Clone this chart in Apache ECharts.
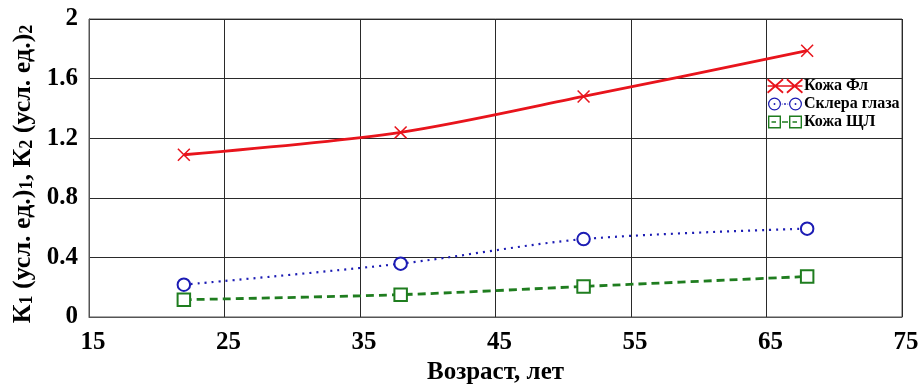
<!DOCTYPE html>
<html>
<head>
<meta charset="utf-8">
<script src="https://cdn.jsdelivr.net/npm/echarts@6/dist/echarts.min.js"></script>
<style>
html,body{margin:0;padding:0;background:#fff;}
#chart{width:924px;height:385px;}
</style>
</head>
<body>
<div id="chart"></div>
<script>
// ---- data ----
const ages = [22, 38, 51.5, 68];
const kozhaFl = [1.089, 1.239, 1.48, 1.787];
const sklera = [0.217, 0.358, 0.523, 0.593];
const kozhaSchl = [0.116, 0.150, 0.205, 0.272];
const seriesNames = ['Кожа Фл', 'Склера глаза', 'Кожа ЩЛ'];
const xTicks = [15, 25, 35, 45, 55, 65, 75];
const yTicks = [0, 0.4, 0.8, 1.2, 1.6, 2];

const FONT = '"Liberation Serif", "Times New Roman", serif';
const RED = '#e8141c', BLUE = '#1c1cb4', GREEN = '#1f7d1f';

function xShape(cx, cy, hx, hy, t) {
  const L = Math.hypot(hx, hy);
  const ox1 = t * hy / L, oy1 = -t * hx / L;
  const b1 = [[cx - hx + ox1, cy - hy + oy1], [cx + hx + ox1, cy + hy + oy1], [cx + hx - ox1, cy + hy - oy1], [cx - hx - ox1, cy - hy - oy1]];
  const ox2 = t * hy / L, oy2 = t * hx / L;
  const b2 = [[cx - hx - ox2, cy + hy - oy2], [cx + hx - ox2, cy - hy - oy2], [cx + hx + ox2, cy - hy + oy2], [cx - hx + ox2, cy + hy + oy2]];
  const poly = p => 'M' + p.map(q => q[0].toFixed(2) + ' ' + q[1].toFixed(2)).join(' L') + ' Z ';
  return poly(b1) + poly(b2);
}
function rect(x0, y0, x1, y1) { return `M${x0} ${y0} L${x1} ${y0} L${x1} ${y1} L${x0} ${y1} Z `; }
function rectRev(x0, y0, x1, y1) { return `M${x0} ${y0} L${x0} ${y1} L${x1} ${y1} L${x1} ${y0} Z `; }
function ring(cx, cy, r, r2) {
  return `M${cx - r} ${cy} A${r} ${r} 0 1 1 ${cx + r} ${cy} A${r} ${r} 0 1 1 ${cx - r} ${cy} Z ` +
         `M${cx - r2} ${cy} A${r2} ${r2} 0 1 0 ${cx + r2} ${cy} A${r2} ${r2} 0 1 0 ${cx - r2} ${cy} Z `;
}
function disc(cx, cy, r) {
  return `M${cx - r} ${cy} A${r} ${r} 0 1 1 ${cx + r} ${cy} A${r} ${r} 0 1 1 ${cx - r} ${cy} Z `;
}

const xSymbol = 'path://' + xShape(10, 10, 10, 10, 1.3);
const legRed = 'path://' + xShape(16, 15, 16, 14, 1.8) + xShape(56, 15, 16, 14, 1.8) + rect(0, 13.5, 72, 16.5);
const legBlue = 'path://' + ring(15, 15, 13, 10.5) + ring(57, 15, 13, 10.5) + disc(15, 15, 1.9) + disc(57, 15, 1.9) +
  disc(36, 15, 1.9) + disc(30.5, 15, 1.2) + disc(41.5, 15, 1.2) + rect(0, 0, 0.01, 30) + rect(71.99, 0, 72, 30);
const legGreen = 'path://' + rect(2, 2, 28, 28) + rectRev(4.8, 4.8, 25.2, 25.2) + rect(44, 2, 70, 28) + rectRev(46.8, 4.8, 67.2, 25.2) +
  rect(9, 13.5, 18, 16.5) + rect(30, 13.5, 42, 16.5) + rect(51, 13.5, 60, 16.5) + rect(0, 0, 72, 0.01) + rect(0, 29.99, 72, 30);

const toPts = vals => ages.map((a, i) => [a, vals[i]]);

const chart = echarts.init(document.getElementById('chart'), null, {renderer: 'canvas'});
chart.setOption({
  backgroundColor: '#fff',
  animation: false,
  grid: {left: 89, right: 22, top: 19, bottom: 68, show: true, borderColor: '#555', borderWidth: 1,
         containLabel: false, outerBoundsMode: 'none'},
  legend: {
    left: 767, top: 78, orient: 'vertical', itemWidth: 36, itemHeight: 15, itemGap: 2, padding: 0,
    textStyle: {fontFamily: FONT, fontWeight: 'bold', fontSize: 16, color: '#000', padding: [0, 0, 0, -4]},
    data: [
      {name: seriesNames[0], icon: legRed, itemStyle: {color: RED, borderWidth: 0}},
      {name: seriesNames[1], icon: legBlue, itemStyle: {color: BLUE, borderWidth: 0}},
      {name: seriesNames[2], icon: legGreen, itemStyle: {color: GREEN, borderWidth: 0}}
    ]
  },
  xAxis: {
    type: 'value', min: xTicks[0], max: xTicks[xTicks.length - 1], interval: xTicks[1] - xTicks[0],
    name: 'Возраст, лет', nameLocation: 'middle', nameGap: 40,
    nameTextStyle: {fontFamily: FONT, fontWeight: 'bold', fontSize: 25, color: '#000'},
    axisLine: {show: true, lineStyle: {color: '#555', width: 1}},
    axisTick: {show: false},
    axisLabel: {margin: 13, fontFamily: FONT, fontWeight: 'bold', fontSize: 25, color: '#000', padding: [0, 0, 0, 8]},
    splitLine: {show: true, lineStyle: {color: '#2a2a2a', width: 1}}
  },
  yAxis: {
    type: 'value', min: yTicks[0], max: yTicks[yTicks.length - 1], interval: yTicks[1] - yTicks[0],
    name: '{a|К}{s|1}{a| (усл. ед.)}{s|1}{a|, К}{s|2}{a| (усл. ед.)}{s|2}',
    nameLocation: 'middle', nameRotate: 90, nameGap: 50,
    nameTextStyle: {
      fontFamily: FONT, fontWeight: 'bold', fontSize: 26, color: '#000', padding: [0, 12, 0, 0],
      rich: {
        a: {fontFamily: FONT, fontWeight: 'bold', fontSize: 26, color: '#000', lineHeight: 26, verticalAlign: 'bottom'},
        s: {fontFamily: FONT, fontWeight: 'bold', fontSize: 18, color: '#000', lineHeight: 11, verticalAlign: 'bottom'}
      }
    },
    axisLine: {show: true, lineStyle: {color: '#555', width: 1}},
    axisTick: {show: false},
    axisLabel: {margin: 11, fontFamily: FONT, fontWeight: 'bold', fontSize: 25, color: '#000'},
    splitLine: {show: true, lineStyle: {color: '#2a2a2a', width: 1}}
  },
  series: [
    {
      name: seriesNames[0], type: 'line', data: toPts(kozhaFl), smooth: 0.3,
      symbol: xSymbol, symbolSize: 13, showAllSymbol: true,
      itemStyle: {color: RED, borderWidth: 0},
      lineStyle: {color: RED, width: 2.8, type: 'solid'}, z: 3
    },
    {
      name: seriesNames[1], type: 'line', data: toPts(sklera), smooth: 0.3,
      symbol: 'emptyCircle', symbolSize: 12.5,
      itemStyle: {color: BLUE, borderColor: BLUE, borderWidth: 1.7},
      lineStyle: {color: BLUE, width: 2.2, type: [2, 5]}, z: 3
    },
    {
      name: seriesNames[2], type: 'line', data: toPts(kozhaSchl), smooth: 0.3,
      symbol: 'emptyRect', symbolSize: 12.5,
      itemStyle: {color: GREEN, borderColor: GREEN, borderWidth: 1.7},
      lineStyle: {color: GREEN, width: 2.8, type: [8, 5]}, z: 3
    }
  ]
});
</script>
</body>
</html>
